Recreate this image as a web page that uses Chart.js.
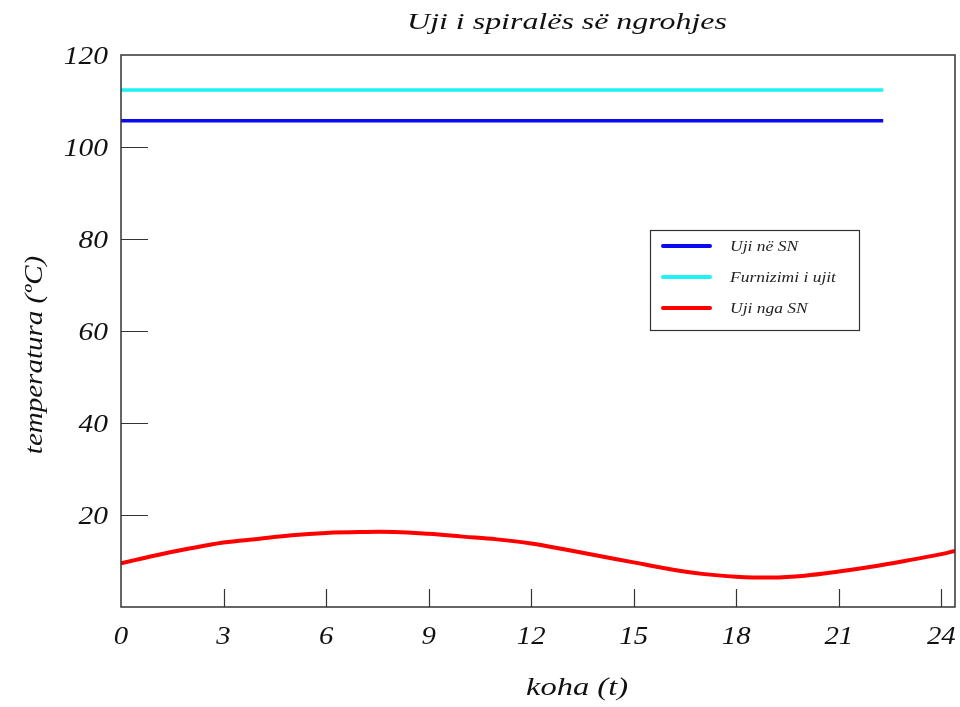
<!DOCTYPE html>
<html>
<head>
<meta charset="utf-8">
<script src="https://cdn.jsdelivr.net/npm/chart.js@4"></script>
<style>
  html, body { margin: 0; padding: 0; background: #fff; }
  #wrap { width: 960px; height: 707px; }
</style>
</head>
<body>
<div id="wrap"><canvas id="chart" width="960" height="707"></canvas></div>
<script>
// koha (t) ne ore
const hours = [0, 1, 2, 3, 4, 5, 6, 7, 8, 9, 10, 11, 12, 13, 14, 15, 16, 17, 18, 19, 20, 21, 22, 23, 24, 24.4];
const ujiNgaSN = [9.5, 11.2, 12.7, 14.0, 14.8, 15.6, 16.1, 16.3, 16.3, 15.9, 15.3, 14.7, 13.8, 12.5, 11.1, 9.7, 8.3, 7.2, 6.6, 6.4, 6.8, 7.7, 8.8, 10.1, 11.5, 12.2];

// vijat horizontale
const flatHours = [0, 22.3];
const ujiNeSN = [105.7, 105.7];
const furnizimiUjit = [112.4, 112.4];

const labels = ["Uji në SN", "Furnizimi i ujit", "Uji nga SN"];
const colors = ["#0a0af0", "#1ef2f2", "#ff0000"];

const xTicks = [0, 3, 6, 9, 12, 15, 18, 21, 24];
const yTicks = [20, 40, 60, 80, 100, 120];

const serif = "'Liberation Serif', serif";

function toPoints(xs, ys) {
    return xs.map((x, i) => ({ x: x, y: ys[i] }));
}

// tekst i zgjeruar horizontalisht si ne origjinal
function wideText(ctx, text, x, y, sx) {
    ctx.save();
    ctx.translate(x, y);
    ctx.scale(sx, 1);
    ctx.fillText(text, 0, 0);
    ctx.restore();
}

// korniza, vijat e vogla brenda, etiketat, titujt dhe legjenda
const decorPlugin = {
    id: 'decor',
    afterDatasetsDraw(chart) {
        const ctx = chart.ctx;
        const area = chart.chartArea;
        const xs = chart.scales.x;
        const ys = chart.scales.y;
        ctx.save();

        // korniza
        ctx.strokeStyle = '#333';
        ctx.lineWidth = 1.5;
        ctx.strokeRect(area.left, area.top, area.right - area.left, area.bottom - area.top);

        // tick marks brenda
        ctx.lineWidth = 1.2;
        ctx.beginPath();
        yTicks.forEach(v => {
            if (v >= 120) return;
            const py = Math.round(ys.getPixelForValue(v)) + 0.5;
            ctx.moveTo(area.left, py);
            ctx.lineTo(area.left + 27, py);
        });
        xTicks.forEach(v => {
            if (v === 0) return;
            const px = Math.round(xs.getPixelForValue(v)) + 0.5;
            ctx.moveTo(px, area.bottom);
            ctx.lineTo(px, area.bottom - 18);
        });
        ctx.stroke();

        // etiketat e boshteve
        ctx.fillStyle = '#111';
        ctx.font = 'italic 25px ' + serif;
        ctx.textBaseline = 'middle';
        ctx.textAlign = 'right';
        yTicks.forEach(v => {
            wideText(ctx, String(v), area.left - 13, ys.getPixelForValue(v) + 2, 1.18);
        });
        ctx.textAlign = 'center';
        xTicks.forEach(v => {
            wideText(ctx, String(v), xs.getPixelForValue(v), area.bottom + 30, 1.15);
        });

        // titulli
        ctx.font = 'italic 24px ' + serif;
        wideText(ctx, 'Uji i spiralës së ngrohjes', 567, 23, 1.33);

        // titulli i boshtit x
        ctx.font = 'italic 26px ' + serif;
        wideText(ctx, 'koha (t)', 577, 688, 1.25);

        // titulli i boshtit y
        ctx.save();
        ctx.translate(35, 355);
        ctx.rotate(-Math.PI / 2);
        ctx.font = 'italic 25px ' + serif;
        wideText(ctx, 'temperatura (ºC)', 0, 0, 1.16);
        ctx.restore();

        // legjenda
        const lx = 650, ly = 230, lw = 209, lh = 100;
        ctx.fillStyle = '#fff';
        ctx.fillRect(lx, ly, lw, lh);
        ctx.strokeStyle = '#333';
        ctx.lineWidth = 1.2;
        ctx.strokeRect(lx + 0.5, ly + 0.5, lw, lh);
        ctx.font = 'italic 14px ' + serif;
        ctx.textAlign = 'left';
        chart.data.datasets.forEach((ds, i) => {
            const ry = ly + 16 + i * 31;
            ctx.strokeStyle = ds.borderColor;
            ctx.lineWidth = 4;
            ctx.lineCap = 'round';
            ctx.beginPath();
            ctx.moveTo(lx + 13, ry);
            ctx.lineTo(lx + 60, ry);
            ctx.stroke();
            ctx.fillStyle = '#222';
            wideText(ctx, ds.label, lx + 80, ry + 1, 1.25);
        });
        ctx.restore();
    }
};

const datasets = [
    { data: toPoints(flatHours, ujiNeSN) },
    { data: toPoints(flatHours, furnizimiUjit) },
    { data: toPoints(hours, ujiNgaSN) }
].map((ds, i) => Object.assign(ds, {
    label: labels[i],
    borderColor: colors[i],
    backgroundColor: colors[i],
    borderWidth: i === 2 ? 4 : 3.5,
    pointRadius: 0,
    tension: 0.4,
    fill: false
}));

function drawChart() {
    new Chart(document.getElementById('chart'), {
        type: 'line',
        data: { datasets },
        options: {
            responsive: false,
            animation: false,
            layout: { padding: { top: 55, right: 5, left: 0, bottom: 0 } },
            plugins: {
                legend: { display: false },
                title: { display: false },
                tooltip: { enabled: false }
            },
            scales: {
                x: {
                    type: 'linear',
                    min: 0,
                    max: 24.4,
                    afterFit: s => { s.height = 100; s.paddingLeft = 0; s.paddingRight = 0; },
                    grid: { display: false, drawTicks: false },
                    border: { display: false },
                    ticks: { stepSize: 3, includeBounds: false, display: false }
                },
                y: {
                    min: 0,
                    max: 120,
                    afterFit: s => { s.width = 121; s.paddingTop = 0; s.paddingBottom = 0; },
                    grid: { display: false, drawTicks: false },
                    border: { display: false },
                    ticks: { stepSize: 20, display: false }
                }
            }
        },
        plugins: [decorPlugin]
    });
}

// prit fontin para se te vizatohet
Promise.all([
    document.fonts.load("italic 24px 'Liberation Serif'", "Uji 0123456789")
]).then(drawChart, drawChart);
</script>
</body>
</html>
